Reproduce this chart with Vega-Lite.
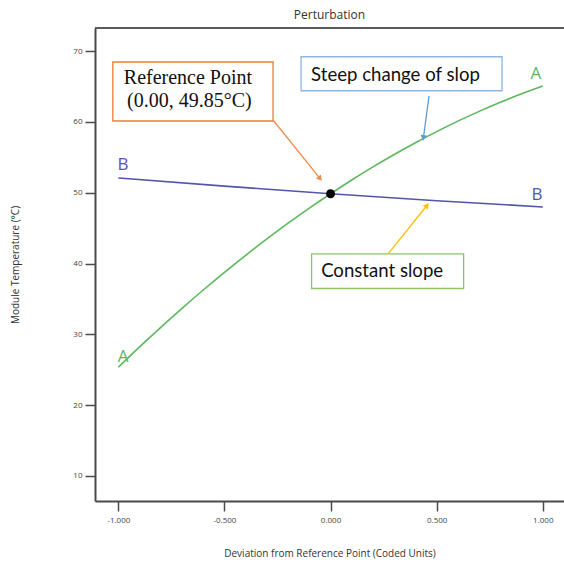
{
  "$schema": "https://vega.github.io/schema/vega-lite/v6.json",
  "autosize": "none",
  "padding": {"left": 95, "top": 28, "right": 0, "bottom": 65},
  "width": 469,
  "height": 473,
  "background": "white",
  "config": {"view": {"stroke": null}, "font": "Open Sans"},
  "title": {"text": "Perturbation", "fontSize": 12, "fontWeight": "normal", "color": "#333", "offset": 5, "font": "Open Sans"},
  "datasets": {
    "curves": [
      {"k": "A", "x": -1.0, "y": 25.35}, {"k": "A", "x": -0.9, "y": 28.22}, {"k": "A", "x": -0.8, "y": 30.99},
      {"k": "A", "x": -0.7, "y": 33.67}, {"k": "A", "x": -0.6, "y": 36.26}, {"k": "A", "x": -0.5, "y": 38.76},
      {"k": "A", "x": -0.4, "y": 41.16}, {"k": "A", "x": -0.3, "y": 43.47}, {"k": "A", "x": -0.2, "y": 45.69},
      {"k": "A", "x": -0.1, "y": 47.82}, {"k": "A", "x": 0.0, "y": 49.85}, {"k": "A", "x": 0.1, "y": 51.79},
      {"k": "A", "x": 0.2, "y": 53.64}, {"k": "A", "x": 0.3, "y": 55.39}, {"k": "A", "x": 0.4, "y": 57.05},
      {"k": "A", "x": 0.5, "y": 58.62}, {"k": "A", "x": 0.6, "y": 60.10}, {"k": "A", "x": 0.7, "y": 61.48},
      {"k": "A", "x": 0.8, "y": 62.77}, {"k": "A", "x": 0.9, "y": 63.97}, {"k": "A", "x": 1.0, "y": 65.07},
      {"k": "B", "x": -1.0, "y": 52.08}, {"k": "B", "x": -0.5, "y": 50.92}, {"k": "B", "x": 0.0, "y": 49.85},
      {"k": "B", "x": 0.5, "y": 48.87}, {"k": "B", "x": 1.0, "y": 47.98}
    ],
    "boxes": [
      {"k": "ref", "x": -1.026, "x2": -0.271, "y": 68.45, "y2": 60.12},
      {"k": "steep", "x": -0.139, "x2": 0.808, "y": 69.19, "y2": 64.39},
      {"k": "const", "x": -0.0895, "x2": 0.627, "y": 41.35, "y2": 36.47}
    ],
    "frame": [{"x": -1.11, "x2": 1.10, "y": 73.25}],
    "arrows": [
      {"k": "ref", "x": -0.271, "y": 60.26, "x2": -0.052, "y2": 52.09},
      {"k": "steep", "x": 0.464, "y": 63.65, "x2": 0.438, "y2": 57.86},
      {"k": "const", "x": 0.271, "y": 41.35, "x2": 0.452, "y2": 48.12}
    ],
    "heads": [
      {"k": "ref", "x": -0.052, "y": 52.09},
      {"k": "steep", "x": 0.438, "y": 57.86},
      {"k": "const", "x": 0.452, "y": 48.12}
    ],
    "refpoint": [{"x": 0.0, "y": 49.85}],
    "curvelabels": [
      {"t": "A", "k": "A", "x": -0.978, "y": 26.78},
      {"t": "A", "k": "A", "x": 0.968, "y": 66.76},
      {"t": "B", "k": "B", "x": -0.978, "y": 53.91},
      {"t": "B", "k": "B", "x": 0.973, "y": 49.68}
    ],
    "reftext": [
      {"t": "Reference Point", "x": -0.672, "y": 66.19},
      {"t": "(0.00, 49.85°C)", "x": -0.665, "y": 62.95}
    ],
    "notetext": [
      {"t": "Steep change of slop", "x": 0.306, "y": 66.6},
      {"t": "Constant slope", "x": 0.243, "y": 38.95}
    ]
  },
  "encoding": {
    "x": {
      "field": "x", "type": "quantitative",
      "scale": {"domain": [-1.11, 1.10], "nice": false, "zero": false},
      "axis": {
        "values": [-1, -0.5, 0, 0.5, 1], "format": ".3f",
        "labelExpr": "replace(datum.label, '\u2212', '-')",
        "grid": false, "tickSize": 10, "domainColor": "#4a4a4a", "domainWidth": 2,
        "tickColor": "#4a4a4a", "tickWidth": 1.5, "labelFontSize": 8, "labelColor": "#444",
        "labelPadding": 5, "title": "Deviation from Reference Point (Coded Units)",
        "titleFontSize": 10, "titleFontWeight": "normal", "titleColor": "#333",
        "titleY": 52, "titleBaseline": "middle"
      }
    },
    "y": {
      "field": "y", "type": "quantitative",
      "scale": {"domain": [6.47, 73.25], "nice": false, "zero": false},
      "axis": {
        "values": [10, 20, 30, 40, 50, 60, 70], "grid": false, "tickSize": 10,
        "domainColor": "#4a4a4a", "domainWidth": 2, "tickColor": "#4a4a4a", "tickWidth": 1.5,
        "labelFontSize": 8, "labelColor": "#444", "labelPadding": 3,
        "title": "Module Temperature (°C)", "titleFontSize": 10, "titleFontWeight": "normal",
        "titleColor": "#333", "titleX": -80, "titleBaseline": "middle", "titleAlign": "center"
      }
    }
  },
  "layer": [
    {
      "data": {"name": "frame"},
      "mark": {"type": "rule", "color": "#5a5a5a", "strokeWidth": 2},
      "encoding": {"x2": {"field": "x2"}}
    },
    {
      "data": {"name": "boxes"},
      "mark": {"type": "rect", "fill": "white", "strokeWidth": 1.3},
      "encoding": {
        "x2": {"field": "x2"}, "y2": {"field": "y2"},
        "stroke": {"field": "k", "type": "nominal", "legend": null,
          "scale": {"domain": ["ref", "steep", "const"], "range": ["#ED7D31", "#8DB4E2", "#8CC26A"]}}
      }
    },
    {
      "data": {"name": "curves"},
      "mark": {"type": "line", "interpolate": "monotone", "strokeWidth": 1.6},
      "encoding": {
        "color": {"field": "k", "type": "nominal", "legend": null,
          "scale": {"domain": ["A", "B", "ref", "steep", "const"], "range": ["#5CB85C", "#5355A8", "#F08A4B", "#5B9BD5", "#FFC000"]}}
      }
    },
    {
      "data": {"name": "arrows"},
      "mark": {"type": "rule", "strokeWidth": 1.3},
      "encoding": {
        "x2": {"field": "x2"}, "y2": {"field": "y2"},
        "color": {"field": "k", "type": "nominal", "legend": null,
          "scale": {"domain": ["A", "B", "ref", "steep", "const"], "range": ["#5CB85C", "#5355A8", "#F08A4B", "#5B9BD5", "#FFC000"]}}
      }
    },
    {
      "data": {"name": "heads"},
      "transform": [{"filter": "datum.k === 'ref'"}],
      "mark": {"type": "point", "shape": "triangle", "filled": true, "size": 40, "angle": 140.8, "opacity": 1, "color": "#F08A4B"}
    },
    {
      "data": {"name": "heads"},
      "transform": [{"filter": "datum.k === 'steep'"}],
      "mark": {"type": "point", "shape": "triangle", "filled": true, "size": 40, "angle": 187.6, "opacity": 1, "color": "#5B9BD5"}
    },
    {
      "data": {"name": "heads"},
      "transform": [{"filter": "datum.k === 'const'"}],
      "mark": {"type": "point", "shape": "triangle", "filled": true, "size": 40, "angle": 39.4, "opacity": 1, "color": "#FFC000"}
    },
    {
      "data": {"name": "refpoint"},
      "mark": {"type": "point", "shape": "circle", "filled": true, "size": 80, "color": "black", "opacity": 1}
    },
    {
      "data": {"name": "curvelabels"},
      "mark": {"type": "text", "font": "Open Sans", "fontSize": 17, "baseline": "middle", "align": "center"},
      "encoding": {
        "text": {"field": "t"},
        "color": {"field": "k", "type": "nominal", "legend": null,
          "scale": {"domain": ["A", "B", "ref", "steep", "const"], "range": ["#5CB85C", "#5355A8", "#F08A4B", "#5B9BD5", "#FFC000"]}}
      }
    },
    {
      "data": {"name": "reftext"},
      "mark": {"type": "text", "font": "Liberation Serif", "fontSize": 20, "baseline": "middle", "align": "center", "color": "#111"},
      "encoding": {"text": {"field": "t"}}
    },
    {
      "data": {"name": "notetext"},
      "mark": {"type": "text", "font": "Lato", "fontSize": 18.6, "baseline": "middle", "align": "center", "color": "#111"},
      "encoding": {"text": {"field": "t"}}
    }
  ]
}
